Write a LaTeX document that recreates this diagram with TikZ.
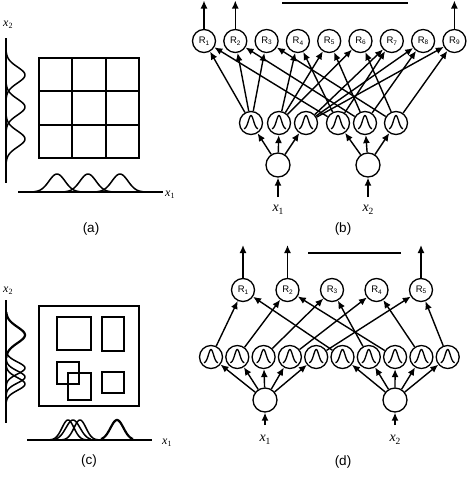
\documentclass[tikz,border=0pt]{standalone}
\usepackage{fontspec}
\setmainfont{Liberation Serif}
\newfontfamily\arialf{Liberation Sans}
\usetikzlibrary{arrows.meta}
\newcommand\Rlab[1]{{\arialf\fontsize{9.5}{10}\selectfont R\raisebox{-0.3ex}{\fontsize{6.5}{7}\selectfont #1}}}
\newcommand\xlabS[1]{{\fontsize{12}{12}\selectfont\textit{x}\raisebox{-0.45ex}{\fontsize{8}{8}\selectfont #1}}}
\newcommand\xlabL[1]{{\fontsize{14}{14}\selectfont\textit{x}\raisebox{-0.45ex}{\fontsize{9.5}{10}\selectfont #1}}}
\begin{document}
\begin{tikzpicture}[x=1pt,y=-1pt,
  conn/.style={line width=1.4pt,-{Latex[length=8pt,width=7pt]}},
  unit/.style={circle,draw,line width=1.3pt,minimum size=23pt,inner sep=0pt},
  inunit/.style={circle,draw,line width=1.3pt,minimum size=24pt,inner sep=0pt},
  axisline/.style={line width=1.5pt},
  curve/.style={line width=1.5pt},
  thickcurve/.style={line width=2.2pt},
  box/.style={line width=1.5pt},
  gridline/.style={line width=1.8pt},
  bar/.style={line width=2.4pt},
  icon/.style={line width=1.3pt},
  plab/.style={font=\arialf\fontsize{13.5}{14}\selectfont}]
\path[use as bounding box] (0,0) rectangle (472,477);

% ================= (a) =================
\draw[axisline] (6,38) -- (6,183);
\draw[axisline] (18,192) -- (163,192);
\draw[gridline] (39,58) rectangle (139,158);
\draw[gridline] (72.3,58) -- (72.3,158) (105.7,58) -- (105.7,158)
                (39,91.3) -- (139,91.3) (39,124.7) -- (139,124.7);
\foreach \c in {75,107,139}
  \draw[curve] plot[domain=\c-23:\c+23,samples=40,smooth] ({6+19*exp(-((\x-\c)*(\x-\c))/128)},\x);
\foreach \c in {57,88,120}
  \draw[curve] plot[domain=\c-23:\c+23,samples=40,smooth] (\x,{192-18*exp(-((\x-\c)*(\x-\c))/128)});
\node[anchor=west,inner sep=0] (ax2) at (3,25) {\xlabS{2}};
\node[anchor=west,inner sep=0] (ax1) at (165,195) {\xlabS{1}};
\node[plab] (la) at (91,229) {(a)};

% ================= (c) =================
\draw[axisline] (6,300) -- (6,423);
\draw[axisline] (27,440) -- (152,440);
\draw[box] (39,306) rectangle (139,406);
\draw[box] (57,317) rectangle (91,350);
\draw[box] (102,317) rectangle (124,351);
\draw[box] (57,362) rectangle (79,384);
\draw[box] (68,373) rectangle (91,400);
\draw[box] (102,372) rectangle (124,393);
% vertical membership functions
\draw[thickcurve] plot[domain=312:358,samples=40,smooth] ({6+19*exp(-((\x-335)*(\x-335))/128)},\x);
\foreach \c/\s in {368/36,377/36,384/40}
  \draw[curve] plot[domain=\c-18:\c+18,samples=40,smooth] ({6+19*exp(-((\x-\c)*(\x-\c))/(2*\s))},\x);
% horizontal membership functions
\foreach \c/\s in {68/36,73/50,80/36}
  \draw[curve] plot[domain=\c-18:\c+18,samples=40,smooth] (\x,{440-20*exp(-((\x-\c)*(\x-\c))/(2*\s))});
\draw[thickcurve] plot[domain=101:133,samples=40,smooth] (\x,{440-20*exp(-((\x-117)*(\x-117))/84)});
\node[anchor=west,inner sep=0] (cx2) at (3,291) {\xlabS{2}};
\node[anchor=west,inner sep=0] (cx1) at (162,443) {\xlabS{1}};
\node[plab] (lc) at (89,461) {(c)};

% ================= (b) =================
\foreach \k/\xx in {1/204,2/235.3,3/266.6,4/297.9,5/329.2,6/360.5,7/391.8,8/423.1,9/454.4}
  \node[unit] (bR\k) at (\xx,41) {\Rlab{\k}};
\foreach \k/\xx in {1/251,2/279,3/306,4/338,5/365,6/396}
  \node[unit] (bg\k) at (\xx,123) {};
\node[inunit] (bin1) at (278,165) {};
\node[inunit] (bin2) at (368,165) {};
\coordinate (bs1) at (278,197);
\coordinate (bs2) at (368,197);
\node[inner sep=0] (bx1) at (278,210) {\xlabL{1}};
\node[inner sep=0] (bx2) at (368,210) {\xlabL{2}};
\coordinate (bo1) at (204,0.5);
\coordinate (bo2) at (235.3,0.5);
\coordinate (bo9) at (454.4,0.5);
\coordinate (bb1) at (282,3);
\coordinate (bb2) at (408,3);
\draw[bar] (bb1) -- (bb2);
\draw[conn] (bR1) -- (bo1);
\draw[conn] (bR2) -- (bo2);
\draw[conn] (bR9) -- (bo9);
\draw[conn] (bs1) -- (bin1);
\draw[conn] (bs2) -- (bin2);
\foreach \g in {1,2,3} \draw[conn] (bin1) -- (bg\g);
\foreach \g in {4,5,6} \draw[conn] (bin2) -- (bg\g);
\foreach \i in {1,2,3}
  \foreach \j in {1,2,3} {
    \pgfmathtruncatemacro\r{(\i-1)*3+\j}
    \pgfmathtruncatemacro\gj{\j+3}
    \draw[conn] (bg\i) -- (bR\r);
    \draw[conn] (bg\gj) -- (bR\r);
  }
\foreach \k in {1,...,6}
  \draw[icon,shift={(bg\k)}] plot[domain=-7:7,samples=30,smooth] (\x,{6-13.5*exp(-((\x)*(\x))/13)});

% ================= (d) =================
\foreach \k/\xx in {1/243,2/287.5,3/332,4/376.5,5/421}
  \node[unit] (dR\k) at (\xx,290) {\Rlab{\k}};
\foreach \k in {1,...,10}
  \node[unit] (dg\k) at ({211+26.3*(\k-1)},357) {};
\node[inunit] (din1) at (265,400) {};
\node[inunit] (din2) at (395,400) {};
\coordinate (ds1) at (265,425);
\coordinate (ds2) at (395,425);
\node[inner sep=0] (dx1) at (265,440) {\xlabL{1}};
\node[inner sep=0] (dx2) at (395,440) {\xlabL{2}};
\coordinate (do1) at (243,245);
\coordinate (do2) at (287.5,245);
\coordinate (do5) at (421,245);
\coordinate (db1) at (308,253);
\coordinate (db2) at (401,253);
\draw[bar] (db1) -- (db2);
\draw[conn] (dR1) -- (do1);
\draw[conn] (dR2) -- (do2);
\draw[conn] (dR5) -- (do5);
\draw[conn] (ds1) -- (din1);
\draw[conn] (ds2) -- (din2);
\foreach \g in {1,...,5} \draw[conn] (din1) -- (dg\g);
\foreach \g in {6,...,10} \draw[conn] (din2) -- (dg\g);
\foreach \g/\r in {1/1,2/2,3/3,4/4,5/5,6/1,7/3,8/2,9/4,10/5}
  \draw[conn] (dg\g) -- (dR\r);
\foreach \k in {1,...,10}
  \draw[icon,shift={(dg\k)}] plot[domain=-7:7,samples=30,smooth] (\x,{6-13.5*exp(-((\x)*(\x))/13)});
\node[plab] (lb) at (343,229) {(b)};
\node[plab] (ld) at (343,462) {(d)};
\end{tikzpicture}
\end{document}
